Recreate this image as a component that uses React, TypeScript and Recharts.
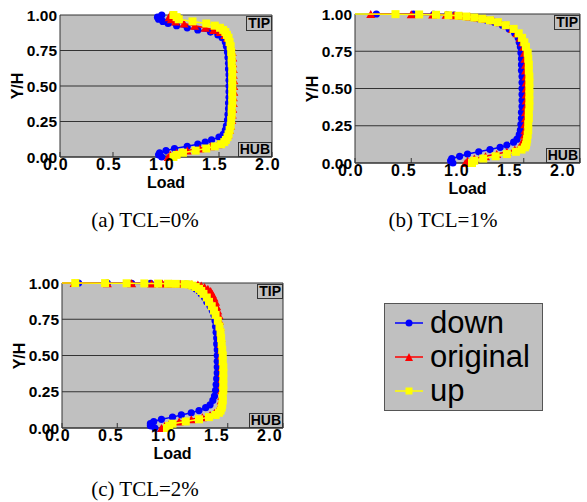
import { ScatterChart, Scatter, XAxis, YAxis, CartesianGrid, ReferenceLine } from 'recharts';

// spanwise stations (Y/H), hub -> tip
const stationsA = [
  0, 0.015, 0.03, 0.045, 0.06, 0.075, 0.09, 0.105, 0.12, 0.14, 0.16, 0.19, 0.22, 0.26, 0.3,
  0.34, 0.38, 0.42, 0.46, 0.5, 0.54, 0.58, 0.62, 0.66, 0.7,
  0.74, 0.78, 0.81, 0.84, 0.86, 0.88, 0.895, 0.91, 0.925, 0.94, 0.955, 0.97, 0.985, 1.0,
];
const stationsB = [
  0, 0.015, 0.03, 0.045, 0.06, 0.075, 0.09, 0.105, 0.12, 0.14, 0.16, 0.19, 0.22, 0.26, 0.3,
  0.34, 0.38, 0.42, 0.46, 0.5, 0.54, 0.58, 0.62, 0.66, 0.7,
  0.74, 0.78, 0.81, 0.84, 0.87, 0.9, 0.925, 0.945, 0.958, 0.968, 0.976, 0.983, 0.988, 0.992,
  0.995, 0.997, 0.999, 1.0,
];
const stationsC = [
  0, 0.015, 0.03, 0.045, 0.06, 0.075, 0.09, 0.105, 0.12, 0.14, 0.16, 0.19, 0.22, 0.26, 0.3,
  0.34, 0.38, 0.42, 0.46, 0.5, 0.54, 0.58, 0.62, 0.66, 0.7,
  0.74, 0.78, 0.81, 0.84, 0.87, 0.9, 0.925, 0.945, 0.96, 0.972, 0.982, 0.99, 0.992, 0.994,
  0.995, 0.996, 0.997, 0.998, 0.999, 0.9995, 1.0,
];

// (a) TCL=0%
const downA = [
  0.96, 0.93, 0.94, 1.0, 1.08, 1.2, 1.3, 1.37, 1.43, 1.5, 1.54, 1.56, 1.57, 1.58, 1.585,
  1.59, 1.59, 1.595, 1.595, 1.595, 1.595, 1.595, 1.59, 1.59, 1.585,
  1.58, 1.57, 1.56, 1.53, 1.49, 1.42, 1.3, 1.2, 1.1, 1.02, 0.97, 0.93, 0.92, 0.96,
];
const originalA = [
  1.02, 1.04, 1.1, 1.2, 1.32, 1.42, 1.49, 1.53, 1.555, 1.57, 1.585, 1.6, 1.61, 1.62, 1.625,
  1.63, 1.635, 1.635, 1.64, 1.64, 1.64, 1.635, 1.635, 1.63, 1.63,
  1.625, 1.615, 1.6, 1.58, 1.555, 1.51, 1.45, 1.37, 1.27, 1.17, 1.09, 1.05, 1.03, 1.04,
];
const upA = [
  1.07, 1.1, 1.16, 1.28, 1.38, 1.46, 1.52, 1.55, 1.565, 1.58, 1.59, 1.6, 1.61, 1.615, 1.62,
  1.62, 1.625, 1.625, 1.625, 1.625, 1.625, 1.625, 1.625, 1.62, 1.62,
  1.615, 1.61, 1.6, 1.59, 1.575, 1.56, 1.54, 1.51, 1.46, 1.38, 1.25, 1.12, 1.1, 1.07,
];

// (b) TCL=1%
const downB = [
  0.87, 0.85, 0.86, 0.93, 1.0, 1.1, 1.2, 1.29, 1.35, 1.41, 1.44, 1.46, 1.47, 1.475, 1.48,
  1.48, 1.485, 1.485, 1.485, 1.485, 1.485, 1.485, 1.48, 1.48, 1.48,
  1.475, 1.47, 1.46, 1.45, 1.42, 1.37, 1.31, 1.24, 1.17, 1.1, 1.04, 0.98, 0.93, 0.88,
  0.82, 0.7, 0.52, 0.19,
];
const originalB = [
  0.98, 1.0, 1.06, 1.16, 1.26, 1.35, 1.42, 1.46, 1.48, 1.49, 1.5, 1.505, 1.51, 1.51, 1.515,
  1.515, 1.52, 1.52, 1.52, 1.52, 1.52, 1.52, 1.515, 1.515, 1.51,
  1.505, 1.5, 1.49, 1.47, 1.44, 1.4, 1.35, 1.29, 1.23, 1.16, 1.09, 1.02, 0.95, 0.88,
  0.81, 0.69, 0.5, 0.14,
];
const upB = [
  1.04, 1.06, 1.14, 1.25, 1.35, 1.43, 1.48, 1.51, 1.52, 1.525, 1.53, 1.535, 1.54, 1.54, 1.545,
  1.545, 1.55, 1.55, 1.55, 1.55, 1.55, 1.55, 1.545, 1.545, 1.54,
  1.535, 1.52, 1.505, 1.485, 1.455, 1.41, 1.34, 1.27, 1.2, 1.13, 1.06, 0.99, 0.92, 0.83,
  0.72, 0.57, 0.36, 0.0,
];

// (c) TCL=2%
const downC = [
  0.84, 0.8, 0.8, 0.83, 0.9, 1.0, 1.08, 1.17, 1.24, 1.3, 1.34, 1.365, 1.38, 1.39, 1.395,
  1.4, 1.405, 1.405, 1.405, 1.405, 1.405, 1.4, 1.4, 1.395, 1.39,
  1.385, 1.375, 1.36, 1.34, 1.31, 1.29, 1.26, 1.24, 1.21, 1.19, 1.17, 1.15, 1.12, 1.06,
  1.0, 0.95, 0.8, 0.63, 0.41, 0.15, 0.0,
];
const originalC = [
  0.9, 0.93, 0.97, 1.06, 1.17, 1.27, 1.34, 1.38, 1.41, 1.425, 1.435, 1.44, 1.445, 1.445, 1.45,
  1.45, 1.45, 1.45, 1.45, 1.445, 1.445, 1.44, 1.44, 1.435, 1.43,
  1.425, 1.42, 1.41, 1.4, 1.39, 1.375, 1.36, 1.345, 1.32, 1.29, 1.26, 1.23, 1.17, 1.07,
  0.99, 0.91, 0.81, 0.63, 0.41, 0.11, 0.0,
];
const upC = [
  0.95, 0.97, 1.0, 1.12, 1.24, 1.33, 1.39, 1.42, 1.435, 1.445, 1.45, 1.455, 1.455, 1.46, 1.46,
  1.46, 1.46, 1.46, 1.455, 1.455, 1.45, 1.445, 1.44, 1.435, 1.425,
  1.41, 1.39, 1.375, 1.355, 1.33, 1.31, 1.28, 1.26, 1.24, 1.21, 1.18, 1.15, 1.11, 1.03,
  0.96, 0.87, 0.745, 0.585, 0.39, 0.12, 0.0,
];

const xTicks = [0, 0.5, 1, 1.5, 2];
const yTicks = [0, 0.25, 0.5, 0.75, 1];
const seriesNames = ['down', 'original', 'up'];

const BLUE = '#0000ff';
const RED = '#ff0000';
const YELLOW = '#ffff00';
const GRAY = '#c0c0c0';
const DARK = '#333333';

const toPoints = (stations: number[], loads: number[]) =>
  stations.map((yh, i) => ({ load: loads[i], yh }));

const circleDot = (p: any) =>
  p.payload.load <= 0 ? <g /> : <circle cx={p.cx} cy={p.cy} r={3.6} fill={BLUE} />;
const triangleDot = (p: any) =>
  p.payload.load <= 0 ? (
    <g />
  ) : (
    <polygon
      points={`${p.cx - 4.5},${p.cy + 4} ${p.cx + 4.5},${p.cy + 4} ${p.cx},${p.cy - 4}`}
      fill={RED}
    />
  );
const squareDot = (p: any) =>
  p.payload.load <= 0 ? <g /> : <rect x={p.cx - 4} y={p.cy - 4} width={8} height={8} fill={YELLOW} />;

const FONT = 'Liberation Sans, Arial, sans-serif';
const yTickFont = { fontSize: 15.5, fontWeight: 'bold', fill: '#000', fontFamily: FONT };
const titleFont = { fontSize: 16, fontWeight: 'bold', fontFamily: FONT } as const;
const boxLabel = {
  position: 'absolute',
  background: GRAY,
  border: `1px solid ${DARK}`,
  fontSize: 14,
  fontWeight: 'bold',
  fontFamily: FONT,
  lineHeight: '13px',
  padding: '0 1px',
  boxSizing: 'border-box',
  height: 15,
} as const;

// the original figure spaces its x labels a little tighter than the ticks
const makeXTick = (plotLeft: number) => (props: any) => {
  const { y, payload } = props;
  const lx = plotLeft - 4 + payload.value * 106;
  return (
    <text x={lx} y={y} dy="0.71em" textAnchor="middle" fontSize={16} fontWeight="bold" fontFamily={FONT}
      letterSpacing={1.2} fill="#000">
      {payload.value.toFixed(1)}
    </text>
  );
};

interface PanelProps {
  left: number;
  top: number;
  width: number;
  height: number;
  plotLeft: number;
  plotTop: number;
  plotRight: number;
  plotBottom: number;
  stations: number[];
  down: number[];
  original: number[];
  up: number[];
}

function Panel({ left, top, width, height, plotLeft, plotTop, plotRight, plotBottom, stations, down, original, up }: PanelProps) {
  const axisH = 30;
  const cxPlot = (plotLeft + plotRight) / 2;
  const cyPlot = (plotTop + plotBottom) / 2;
  return (
    <div style={{ position: 'absolute', left, top, width, height }}>
      <ScatterChart
        width={width}
        height={height}
        margin={{ top: plotTop, right: width - plotRight, left: 0, bottom: height - plotBottom - axisH }}
      >
        <CartesianGrid vertical={false} stroke={DARK} fill={GRAY} fillOpacity={1} />
        <XAxis
          type="number"
          dataKey="load"
          domain={[0, 2]}
          ticks={xTicks}
          height={axisH}
          tickSize={-5}
          tickMargin={7}
          stroke={DARK}
          tick={makeXTick(plotLeft)}
          interval={0}
        />
        <YAxis
          type="number"
          dataKey="yh"
          domain={[0, 1]}
          ticks={yTicks}
          tickFormatter={(v: number) => v.toFixed(2)}
          width={plotLeft}
          tickSize={0}
          tickMargin={3}
          stroke={DARK}
          tick={yTickFont}
          interval={0}
        />
        <ReferenceLine x={2} stroke={DARK} />
        <Scatter name={seriesNames[0]} data={toPoints(stations, down)} fill={BLUE} line={{ stroke: BLUE, strokeWidth: 1.5 }} shape={circleDot} isAnimationActive={false} />
        <Scatter name={seriesNames[1]} data={toPoints(stations, original)} fill={RED} line={{ stroke: RED, strokeWidth: 1.5 }} shape={triangleDot} isAnimationActive={false} />
        <Scatter name={seriesNames[2]} data={toPoints(stations, up)} fill={YELLOW} line={{ stroke: YELLOW, strokeWidth: 1.5 }} shape={squareDot} isAnimationActive={false} />
      </ScatterChart>
      <div style={{ ...boxLabel, right: width - plotRight, top: plotTop + 1 }}>TIP</div>
      <div style={{ ...boxLabel, right: width - plotRight, top: plotBottom - 15 }}>HUB</div>
      <div
        style={{
          ...titleFont,
          position: 'absolute',
          left: plotLeft - 42.5,
          top: cyPlot,
          transform: 'translate(-50%, -50%) rotate(-90deg)',
          whiteSpace: 'nowrap',
        }}
      >
        Y/H
      </div>
      <div
        style={{
          ...titleFont,
          position: 'absolute',
          left: cxPlot,
          top: plotBottom + 26,
          transform: 'translate(-50%, -50%)',
          whiteSpace: 'nowrap',
        }}
      >
        Load
      </div>
    </div>
  );
}

const captionStyle = {
  position: 'absolute',
  fontFamily: 'Liberation Serif, Times New Roman, serif',
  fontSize: 21,
  transform: 'translate(-50%, -50%)',
  whiteSpace: 'nowrap',
} as const;

function LegendMark({ color, kind }: { color: string; kind: string }) {
  return (
    <svg width={28} height={14} style={{ display: 'block' }}>
      <line x1={0} y1={7} x2={28} y2={7} stroke={color} strokeWidth={1.5} />
      {kind === 'circle' && <circle cx={14} cy={7} r={3.5} fill={color} />}
      {kind === 'triangle' && <polygon points="10,11 18,11 14,3" fill={color} />}
      {kind === 'square' && <rect x={10.5} y={3.5} width={7} height={7} fill={color} />}
    </svg>
  );
}

export default function App() {
  const legendRows = [
    { name: seriesNames[0], color: BLUE, kind: 'circle' },
    { name: seriesNames[1], color: RED, kind: 'triangle' },
    { name: seriesNames[2], color: YELLOW, kind: 'square' },
  ];
  return (
    <div style={{ position: 'absolute', left: 0, top: 0, width: 587, height: 502, background: '#fff' }}>
      <Panel left={0} top={0} width={290} height={200} plotLeft={60} plotTop={15} plotRight={272} plotBottom={157}
        stations={stationsA} down={downA} original={originalA} up={upA} />
      <Panel left={290} top={0} width={297} height={205} plotLeft={65} plotTop={14} plotRight={290} plotBottom={163}
        stations={stationsB} down={downB} original={originalB} up={upB} />
      <Panel left={0} top={270} width={290} height={200} plotLeft={62} plotTop={13} plotRight={283} plotBottom={158}
        stations={stationsC} down={downC} original={originalC} up={upC} />

      <div style={{ ...captionStyle, left: 145, top: 220 }}>(a) TCL=0%</div>
      <div style={{ ...captionStyle, left: 443, top: 220 }}>(b) TCL=1%</div>
      <div style={{ ...captionStyle, left: 145, top: 489 }}>(c) TCL=2%</div>

      <div
        style={{
          position: 'absolute',
          left: 384,
          top: 303,
          width: 159,
          height: 108,
          boxSizing: 'border-box',
          background: GRAY,
          border: '1px solid #555',
          paddingTop: 2,
        }}
      >
        {legendRows.map((r) => (
          <div key={r.name} style={{ display: 'flex', alignItems: 'center', height: 34, paddingLeft: 10 }}>
            <LegendMark color={r.color} kind={r.kind} />
            <span style={{ marginLeft: 7, fontSize: 31, fontFamily: FONT, lineHeight: '34px' }}>
              {r.name}
            </span>
          </div>
        ))}
      </div>
    </div>
  );
}
